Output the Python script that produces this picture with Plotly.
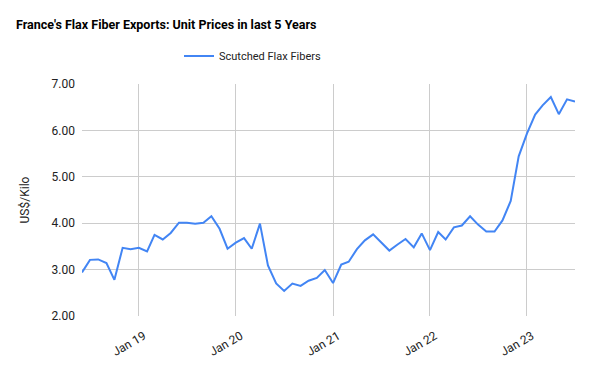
import plotly.graph_objects as go
import pandas as pd

months = pd.date_range("2018-06-01", "2023-07-01", freq="MS").strftime("%Y-%m-%d").tolist()
prices = [
    2.94, 3.21, 3.22, 3.14, 2.78, 3.47, 3.44,
    3.47, 3.39, 3.75, 3.65, 3.79, 4.01, 4.01, 3.99, 4.01, 4.15, 3.88, 3.45,
    3.58, 3.68, 3.45, 3.99, 3.09, 2.70, 2.54, 2.70, 2.65, 2.76, 2.82, 2.99,
    2.71, 3.11, 3.17, 3.44, 3.63, 3.76, 3.58, 3.41, 3.54, 3.66, 3.48, 3.78,
    3.42, 3.81, 3.65, 3.91, 3.95, 4.15, 3.97, 3.82, 3.82, 4.06, 4.48, 5.44,
    5.93, 6.34, 6.54, 6.72, 6.35, 6.67, 6.62,
]
series_name = "Scutched Flax Fibers"
tick_dates = ["2019-01-01", "2020-01-01", "2021-01-01", "2022-01-01", "2023-01-01"]
tick_labels = ["Jan 19", "Jan 20", "Jan 21", "Jan 22", "Jan 23"]
y_ticks = [2, 3, 4, 5, 6, 7]
y_labels = ["2.00", "3.00", "4.00", "5.00", "6.00", "7.00"]

fig = go.Figure()
fig.add_trace(go.Scatter(
    x=months, y=prices, mode="lines", name=series_name,
    line=dict(color="#4285F4", width=2),
))

fig.update_layout(
    width=593, height=368,
    margin=dict(l=82, r=18, t=84, b=52, autoexpand=False),
    paper_bgcolor="white", plot_bgcolor="white",
    font=dict(family="Roboto", size=12, color="#222222"),
    title=dict(text="<b>France's Flax Fiber Exports: Unit Prices in last 5 Years</b>",
               xref="container", yref="container",
               x=16/593, xanchor="left", y=1-25/368, yanchor="middle",
               pad=dict(l=0, r=0, t=0, b=0),
               font=dict(family="Roboto", size=12.5, color="#000000")),
    showlegend=True,
    legend=dict(orientation="h", xref="container", x=179/593, xanchor="left",
                y=1-56/368, yanchor="middle", yref="container",
                font=dict(size=11, color="#222222")),
    xaxis=dict(
        range=[months[0], months[-1]], automargin=False,
        tickvals=tick_dates, ticktext=tick_labels, tickangle=-30,
        ticklabelstandoff=10, ticklabelshift=5,
        showgrid=True, gridcolor="#cccccc", gridwidth=1,
        showline=False, zeroline=False, ticks="",
        tickfont=dict(size=12, color="#222222"),
    ),
    yaxis=dict(
        range=[2, 7], tickvals=y_ticks, ticktext=y_labels, automargin=False,
        showgrid=True, gridcolor="#cccccc", gridwidth=1,
        zeroline=False, showline=False, ticks="", ticklabelstandoff=6,
        title=dict(text="US$/Kilo", font=dict(size=12, color="#222222"), standoff=19),
        tickfont=dict(size=12, color="#222222"),
    ),
)

fig.write_html("out.html", config={"displayModeBar": False},
               post_script="document.body.style.margin='0';")
